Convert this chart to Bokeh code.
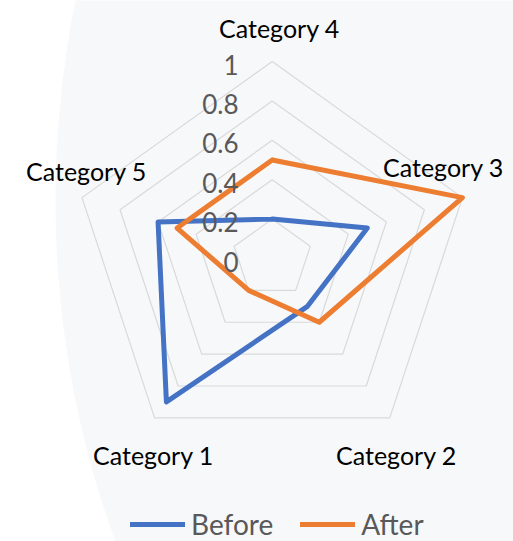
import numpy as np
from bokeh.plotting import figure
from bokeh.models import Range1d, Legend, LegendItem
from bokeh.core.properties import value
from bokeh.embed import file_html
from bokeh.resources import INLINE

# ---- data -------------------------------------------------------------
categories = ["Category 4", "Category 3", "Category 2", "Category 1", "Category 5"]
before = [0.2, 0.5, 0.3, 0.9, 0.6]
after = [0.5, 1.0, 0.4, 0.2, 0.5]
ring_values = [0.2, 0.4, 0.6, 0.8, 1.0]
tick_values = [0, 0.2, 0.4, 0.6, 0.8, 1.0]
tick_labels = ["0", "0.2", "0.4", "0.6", "0.8", "1"]
series_names = ["Before", "After"]
series_colors = ["#4472C4", "#ED7D31"]

# ---- layout -----------------------------------------------------------
W, H = 513, 541
CX, CY = 271.7, 258.0      # centre of the radar in canvas pixels
SX, SY = 200.0, 197.0      # pixels per unit radius

FONT = "Lato"

def px(x_px, y_px):
    """Canvas pixel position -> data coordinates."""
    return (x_px - CX) / SX, (CY - y_px) / SY

p = figure(width=W, height=H, output_backend="svg", toolbar_location=None,
           x_range=Range1d(-CX / SX, (W - CX) / SX),
           y_range=Range1d(-(H - CY) / SY, CY / SY),
           min_border=0)
p.axis.visible = False
p.grid.visible = False
p.outline_line_color = None
p.background_fill_color = "#ffffff"
p.border_fill_color = "#ffffff"

# faint watermark shading behind the chart
wx, wy = px(700, 200)
p.ellipse(x=[wx], y=[wy], width=[1290 / SX], height=[1620 / SY],
          fill_color="#f7f8fa", line_color=None)

# spokes: first category at the top, then clockwise
n = len(categories)
angles = np.pi / 2 - np.arange(n) * 2 * np.pi / n

def polygon(vals):
    vals = np.asarray(vals, dtype=float)
    xs = vals * np.cos(angles)
    ys = vals * np.sin(angles)
    return list(np.append(xs, xs[0])), list(np.append(ys, ys[0]))

# concentric pentagon gridlines
ring_xs, ring_ys = [], []
for r in ring_values:
    gx, gy = polygon([r] * n)
    ring_xs.append(gx)
    ring_ys.append(gy)
p.multi_line(ring_xs, ring_ys, line_color="#d9d9d9", line_width=1.2)

# series
renderers = []
for vals, color in zip([before, after], series_colors):
    lx, ly = polygon(vals)
    r = p.line(lx, ly, line_color=color, line_width=5, line_join="round",
               line_cap="round")
    renderers.append(r)

# value axis labels along the top spoke
lab_x = (238 - CX) / SX
p.text(x=[lab_x] * len(tick_values), y=tick_values, text=tick_labels,
       text_align="right", text_baseline="middle", y_offset=3,
       text_font=value(FONT), text_font_size="26px", text_color="#595959")

# category labels
label_pos = [(279, 27, "center"), (443, 166, "center"), (396, 454, "center"),
             (153, 454, "center"), (86, 170, "center")]
for name, (lx_px, ly_px, align) in zip(categories, label_pos):
    tx, ty = px(lx_px, ly_px)
    p.text(x=[tx], y=[ty], text=[name], text_align=align,
           text_baseline="alphabetic", text_font=value(FONT),
           text_font_size="25px", text_color="#000000")

legend = Legend(items=[LegendItem(label=nm, renderers=[r])
                       for nm, r in zip(series_names, renderers)],
                orientation="horizontal", location=(130, 0),
                label_text_font=FONT, label_text_font_size="28px",
                label_text_color="#595959", glyph_width=55, glyph_height=30,
                label_standoff=6, spacing=27, padding=0, margin=0,
                border_line_color=None, background_fill_alpha=0)
p.add_layout(legend)

open("out.html", "w").write(file_html(p, INLINE))
